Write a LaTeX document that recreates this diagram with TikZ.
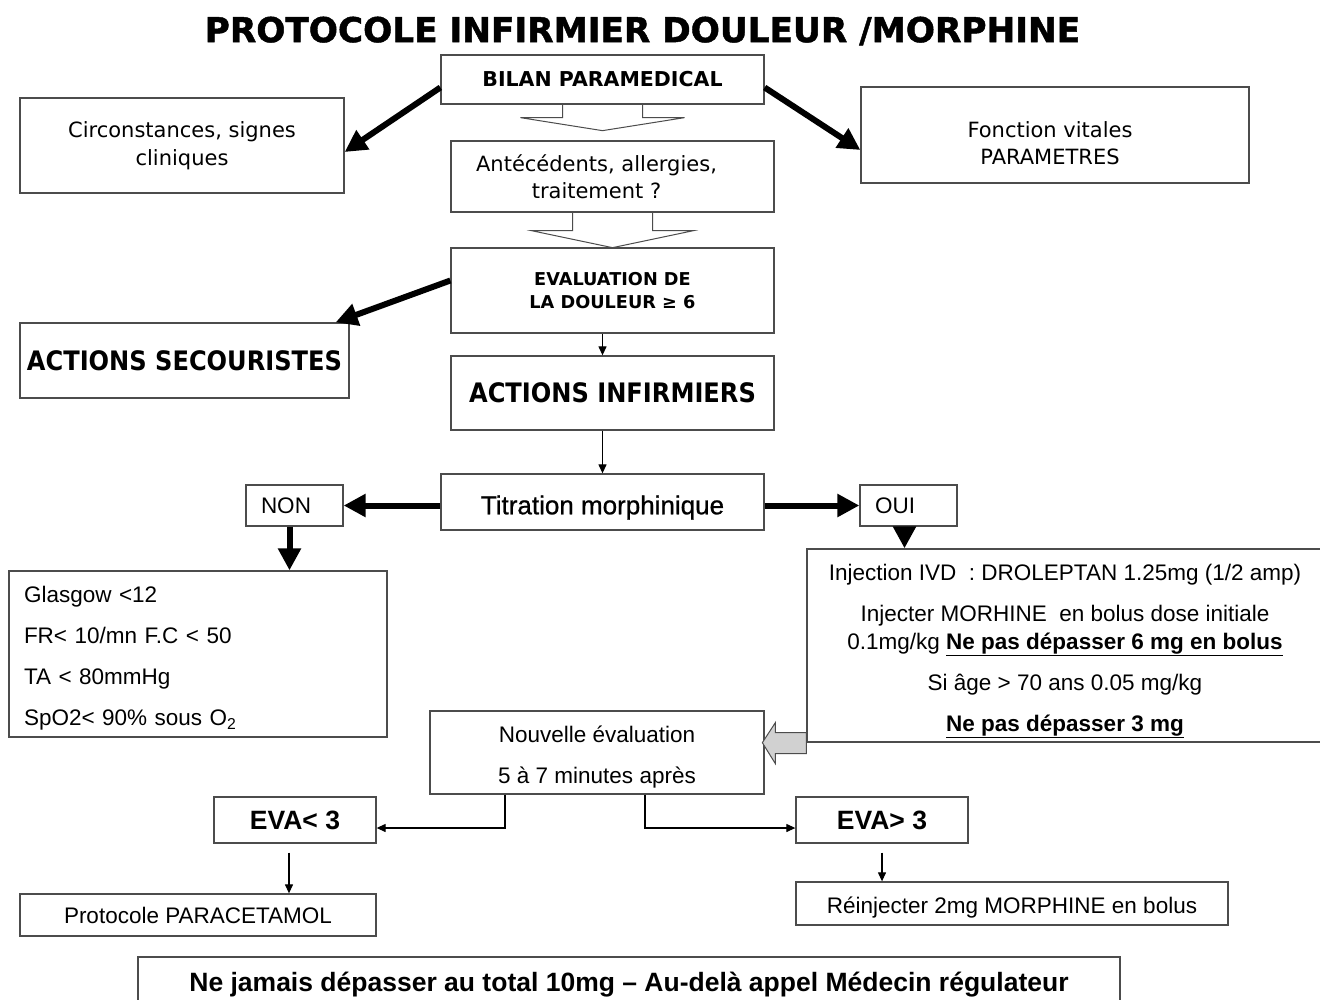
\documentclass[tikz,border=0pt]{standalone}
\usepackage{fontspec}
\setmainfont{Liberation Sans}
\newfontfamily\verdana{DejaVu Sans}
\newfontfamily\verdanaetroit[FakeStretch=0.9]{DejaVu Sans}
\newfontfamily\titrefont[BoldFeatures={FakeBold=1.3}]{DejaVu Sans}
\newfontfamily\epais[FakeBold=0.8]{Liberation Sans}
\usetikzlibrary{arrows.meta,calc}
\definecolor{trait}{gray}{0.3}
\definecolor{grisfleche}{gray}{0.82}
\newcommand{\taille}[2]{\fontsize{#1}{#2}\selectfont}
% un filet invisible pour descendre le texte dans sa boite
\newcommand{\cale}[1]{\rule{0pt}{#1}}

\tikzset{
    boite/.style={draw=trait, line width=1.3pt, fill=white, align=center, inner sep=0pt},
    haut/.style={font=\verdana\taille{21}{27.5}},
    haut gras/.style={font=\verdana\bfseries\taille{20.5}{23}},
    action/.style={font=\verdanaetroit\bfseries\taille{26.8}{30}},
    bas/.style={font=\taille{22.5}{41}},
    bas gras/.style={font=\bfseries\taille{26.5}{30}},
    grosse fleche/.style={line width=6pt, -{Triangle[length=22pt,width=22pt]}},
    fine fleche/.style={line width=1.2pt, -{Triangle[length=9pt,width=8pt]}},
    creuse/.style={draw=trait, line width=1pt, line join=miter},
}

\begin{document}
\begin{tikzpicture}[x=1pt, y=-1pt]
\useasboundingbox[fill=white] (0,0) rectangle (1320,999);

\node[font=\titrefont\bfseries\taille{34.3}{40}] (titre) at (642.5,31) {PROTOCOLE INFIRMIER DOULEUR /MORPHINE};

% bilan et premieres questions
\node[boite, haut gras, minimum width=323, minimum height=49] (bilan) at (602.5,79.5) {BILAN PARAMEDICAL};
\node[boite, haut, minimum width=324, minimum height=95] (circ) at (182,145.5) {Circonstances, signes\\cliniques};
\node[boite, haut, minimum width=323, minimum height=71] (ante) at (612.5,176.5) {Antécédents, allergies,\hspace*{32pt}\\traitement ?\hspace*{32pt}};
\node[boite, haut, minimum width=388, minimum height=96] (fonct) at (1055,135) {\cale{32pt}Fonction vitales\hspace*{10pt}\\PARAMETRES\hspace*{10pt}};
\node[boite, font=\verdana\bfseries\taille{17.7}{23}, minimum width=323, minimum height=85] (evalu) at (612.5,290.5) {EVALUATION DE\\LA DOULEUR ≥ 6};
\node[boite, action, minimum width=329, minimum height=75] (secour) at (184.5,360.5) {ACTIONS SECOURISTES};
\node[boite, action, minimum width=323, minimum height=74] (infirm) at (612.5,393) {ACTIONS INFIRMIERS};

% titration
\node[boite, font=\epais\taille{26}{30}, minimum width=323, minimum height=56] (titra) at (602.5,502) {\cale{30pt}Titration morphinique};
\node[boite, bas, text width=67, inner xsep=15, minimum height=41, align=left] (non) at (294.5,505.5) {NON};
\node[boite, bas, text width=67, inner xsep=15, minimum height=41, align=left] (oui) at (908.5,505.5) {OUI};
\node[boite, bas, text width=348, inner xsep=15, minimum height=166, align=left] (glasg) at (198,654)
    {\cale{25pt}Glasgow <12\\FR< 10/mn F.C < 50\\TA < 80mmHg\\SpO2< 90\% sous O\textsubscript{2}};
\node[boite, font=\taille{22.5}{28}, minimum width=516, minimum height=193] (inject) at (1065,645.5)
    {\cale{27pt}Injection IVD\ \ : DROLEPTAN 1.25mg (1/2 amp)\\[13pt]
     Injecter MORHINE\ \ en bolus dose initiale\\
     0.1mg/kg \underline{\textbf{Ne pas dépasser 6 mg en bolus}}\\[13pt]
     Si âge > 70 ans 0.05 mg/kg\\[13pt]
     \underline{\textbf{Ne pas dépasser 3 mg}}};

% reevaluation
\node[boite, bas, minimum width=334, minimum height=83] (nouv) at (597,752.5) {\cale{25pt}Nouvelle évaluation\\5 à 7 minutes après};
\node[boite, bas gras, minimum width=162, minimum height=46] (evainf) at (295,820) {EVA< 3};
\node[boite, bas gras, minimum width=172, minimum height=46] (evasup) at (882,820) {EVA> 3};
\node[boite, bas, minimum width=356, minimum height=42] (parac) at (198,915) {Protocole PARACETAMOL};
\node[boite, bas, minimum width=432, minimum height=43] (reinj) at (1012,903.5) {\cale{25pt}Réinjecter 2mg MORPHINE en bolus};
\node[boite, bas gras, minimum width=982, minimum height=46] (total) at (629,980)
    {\cale{28pt}Ne jamais dépasser au total 10mg – Au-delà appel Médecin régulateur};

% grosses fleches
\draw[grosse fleche] ([yshift=-8pt]bilan.west) -- ([yshift=-6.5pt]circ.east);
\draw[grosse fleche] ([yshift=-8pt]bilan.east) -- ([yshift=-15pt]fonct.west);
\draw[grosse fleche] ([yshift=10pt]evalu.west) -- ([xshift=-14pt]secour.north east);
\draw[grosse fleche] (non.east -| titra.west) -- (non.east);
\draw[grosse fleche] (oui.west -| titra.east) -- (oui.west);
\draw[grosse fleche] ([xshift=-5pt]non.south) -- ([xshift=-5pt]non.south |- glasg.north);
\draw[grosse fleche] ([xshift=-4pt]oui.south) -- ([xshift=-4pt]oui.south |- inject.north);

% fleches creuses
\draw[creuse] ($(bilan.south)+(-40,0)$) -- ++(0,13) -- ++(-42,0) -- ++(82,13) -- ++(82,-13) -- ++(-42,0) -- ++(0,-13);
\draw[creuse] ($(ante.south)+(-40,0)$) -- ++(0,18) -- ++(-41,0) -- ++(81,17) -- ++(81,-17) -- ++(-41,0) -- ++(0,-18);

% fines fleches
\draw[fine fleche] (evalu.south -| titra.north) -- (infirm.north -| titra.north);
\draw[fine fleche] (infirm.south -| titra.north) -- (titra.north);
\draw[fine fleche] ([xshift=-92pt]nouv.south) |- ([yshift=-8pt]evainf.east);
\draw[fine fleche] ([xshift=48pt]nouv.south) |- ([yshift=-8pt]evasup.west);
\draw[fine fleche] ([xshift=-6pt,yshift=-9pt]evainf.south) -- ([xshift=-6pt]evainf.south |- parac.north);
\draw[fine fleche] ([yshift=-9pt]evasup.south) -- (evasup.south |- reinj.north);

% fleche grise vers la nouvelle evaluation
\draw[draw=trait, line width=1pt, fill=grisfleche] (inject.south west) ++(0,-10) -- ++(-31,0) -- ++(0,-10)
    -- ++(-13,20) -- ++(13,21) -- ++(0,-10) -- ++(31,0) -- cycle;
\end{tikzpicture}
\end{document}
